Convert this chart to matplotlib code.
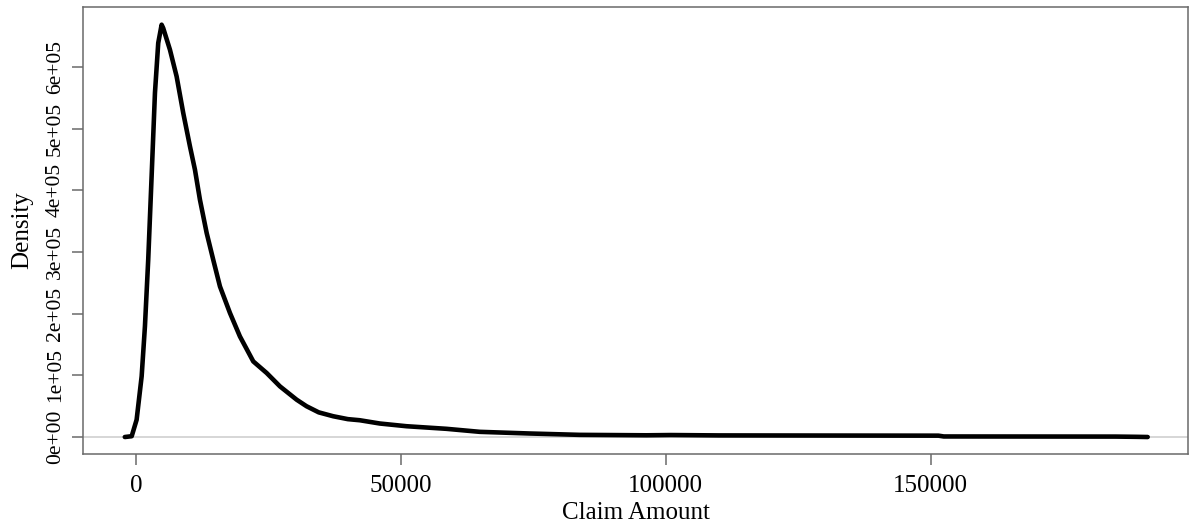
import matplotlib.pyplot as plt

# density curve
claim_x = [-2100, -800, 130, 1080, 1700, 2320, 2960, 3590, 4210, 4850,
           5150, 6420, 7680, 8930, 10200, 11140, 12080, 13350, 14590, 15860,
           17750, 19630, 22150, 24680, 27190, 30340, 32210, 34500, 37230, 40000,
           42260, 46040, 51080, 58620, 64910, 74340, 83770, 96360, 101000, 110000,
           130000, 151500, 152500, 170000, 185000, 189000, 191000]
density = [0, 1300, 28000, 98500, 179600, 287700, 422700, 557900, 638900, 668600,
           663000, 628000, 584700, 525400, 471200, 433500, 384900, 330900, 287500, 244200,
           201100, 163100, 122600, 103800, 82100, 60500, 49900, 40000, 33700, 29000,
           27200, 21900, 17500, 13300, 8400, 5700, 3500, 2800, 3200, 2600,
           2400, 2200, 900, 800, 700, 300, 0]

x_ticks = [0, 50000, 100000, 150000]
y_ticks = [0, 1e5, 2e5, 3e5, 4e5, 5e5, 6e5]
y_tick_labels = ["0e+00", "1e+05", "2e+05", "3e+05", "4e+05", "5e+05", "6e+05"]

plt.rcParams["font.family"] = "Liberation Serif"
plt.rcParams["font.size"] = 18

fig = plt.figure(figsize=(11.92, 5.25), dpi=100)
ax = fig.add_axes([0.0696, 0.1352, 0.9270, 0.8515])

ax.axhline(0, color="#d0d0d0", lw=1.2, zorder=1)
ax.plot(claim_x, density, color="black", lw=3.3, solid_capstyle="round",
        solid_joinstyle="round", zorder=2)

ax.set_xlim(-10000, 198600)
ax.set_ylim(-27570, 697300)

ax.set_xticks(x_ticks)
ax.set_xticklabels([str(v) for v in x_ticks])
ax.set_yticks(y_ticks)
ax.set_yticklabels(y_tick_labels, rotation=90, va="center", fontsize=15.5)

for s in ax.spines.values():
    s.set_color("#6a6a6a")
    s.set_linewidth(1.1)
ax.tick_params(axis="both", length=8, width=1.1, color="#6a6a6a",
               labelcolor="black")
ax.tick_params(axis="x", pad=7)
ax.tick_params(axis="y", pad=5)

ax.set_xlabel("Claim Amount", labelpad=4)
ax.set_ylabel("Density", labelpad=9)

fig.savefig("out.png", dpi=100, facecolor="white")
